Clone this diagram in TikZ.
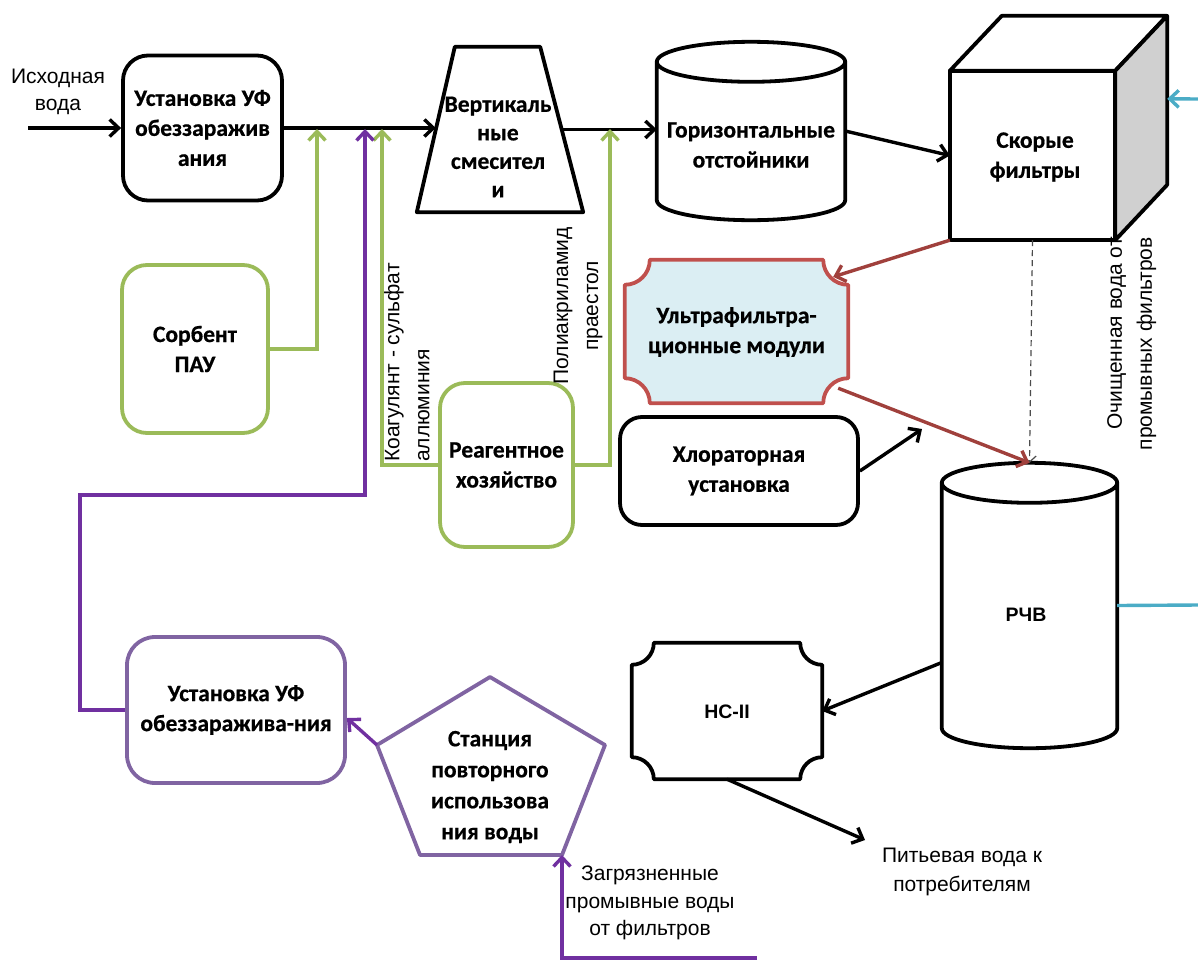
\documentclass[tikz,border=0pt]{standalone}
\usepackage{fontspec}
\setmainfont{Carlito}[BoldFeatures={FakeBold=0.6}]
\newfontfamily\arialfont{Liberation Sans}
\usetikzlibrary{arrows.meta,calc,backgrounds}

\definecolor{lgreen}{HTML}{9BBB59}
\definecolor{pline}{HTML}{7030A0}
\definecolor{pbox}{HTML}{8064A2}
\definecolor{rline}{HTML}{A0403C}
\definecolor{rbox}{HTML}{C0504D}
\definecolor{bluefill}{HTML}{DBEEF3}
\definecolor{cline}{HTML}{4BACC6}
\definecolor{sidegray}{HTML}{D0D0D0}

% plaque outline (concave corners) around a node: #1 style, #2 node, #3 radius
\newcommand\plaquedraw[3]{%
  \draw[#1] let \p1=(#2.north west), \p2=(#2.south east) in
    (\x1+#3,\y1) -- (\x2-#3,\y1) arc[start angle=180,end angle=270,radius=#3]
    -- (\x2,\y2+#3) arc[start angle=90,end angle=180,radius=#3]
    -- (\x1+#3,\y2) arc[start angle=0,end angle=90,radius=#3]
    -- (\x1,\y1-#3) arc[start angle=270,end angle=360,radius=#3] -- cycle;}

% upright cylinder outline around a node: #1 node, #2 half height of the end ellipse
\newcommand\cyldraw[2]{%
  \draw[shapeline, fill=white] let \p1=(#1.north west), \p2=(#1.south east),
      \n1={(\x2-\x1)/2} in
    (\x1,\y1-#2) -- (\x1,\y2+#2)
      arc[start angle=180,end angle=360,x radius={\n1*1pt},y radius=#2]
      -- (\x2,\y1-#2)
      arc[start angle=0,end angle=180,x radius={\n1*1pt},y radius=#2] -- cycle
    (\x1,\y1-#2) arc[start angle=180,end angle=360,x radius={\n1*1pt},y radius=#2];}

\begin{document}
\begin{tikzpicture}[x=1pt,y=-1pt,
  lbl/.style={font=\arialfont\fontsize{21}{27.5}\selectfont, align=center, inner sep=0pt},
  vlbl/.style={font=\arialfont\fontsize{21}{30}\selectfont, inner sep=0pt, rotate=90},
  boldtxt/.style={font=\bfseries\fontsize{23.5}{30}\selectfont, align=center, inner sep=0pt},
  shapeline/.style={line width=3.8pt, line join=round},
  box/.style={shapeline, draw, fill=white, rounded corners=25pt, boldtxt},
  gbox/.style={box, draw=lgreen},
  pbox/.style={box, draw=pbox},
  hidden/.style={draw=none, inner sep=0pt},
  arr/.style={line width=3.4pt, -{Straight Barb[length=9pt,width=17pt]}},
  garr/.style={arr, draw=lgreen},
  parr/.style={arr, draw=pline},
  rarr/.style={arr, draw=rline},
  cyanline/.style={line width=3.4pt, draw=cline},
  dasharr/.style={line width=1.2pt, draw=black!70, dash pattern=on 6pt off 4pt,
    -{Straight Barb[length=6pt,width=13pt]}},
]
\useasboundingbox (0,0) rectangle (1198,961);

% ---------- top process line ----------
\node[lbl] (srcl) at (58,92) {Исходная\\вода};
\coordinate (src) at (28,128);
\node[box, minimum width=159, minimum height=145] (uf1) at (202.5,128) {Установка УФ\\обеззаражив\\ания};

% mixer: node is the band at mid height of the trapezoid
\node[hidden, minimum width=126, minimum height=165] (mix) at (499,129.5) {};
\node[boldtxt, font=\bfseries\fontsize{23.5}{28.5}\selectfont] (mixt) at (498,147) {Вертикаль\\ные\\смесител\\и};

\node[hidden, minimum width=188, minimum height=178] (hs) at (751,131) {};
\node[hidden, minimum width=165, minimum height=169] (cubef) at (1032.5,155.5) {};

% ---------- middle ----------
\node[hidden, minimum width=223, minimum height=143] (ultra) at (736.5,331.5) {};
\node[box, minimum width=238, minimum height=108, rounded corners=22pt] (chl) at (739,471) {Хлораторная\\установка};
\node[hidden, minimum width=175, minimum height=285] (rchv) at (1029.5,605.5) {};
\node[hidden, minimum width=190, minimum height=136] (nc2) at (727,711) {};

\node[gbox, minimum width=133, minimum height=164] (reag) at (506.5,465) {Реагентное\\хозяйство};
\node[gbox, minimum width=146, minimum height=168] (sorb) at (195,349) {Сорбент\\ПАУ};

% ---------- bottom ----------
\node[pbox, minimum width=218, minimum height=146, rounded corners=28pt] (uf2) at (236,710) {Установка УФ\\обеззаражива-ния};
\coordinate (pa) at (490,677);
\coordinate (pb) at (377,745);
\coordinate (pc) at (420,855);
\coordinate (pd) at (562,855);
\coordinate (pe) at (605,745);

% ---------- shapes drawn around the nodes ----------
\begin{scope}[on background layer]
  \draw[shapeline, fill=white] ($(mix.south west)+(-19,0)$) -- ($(mix.north west)+(19,0)$)
    -- ($(mix.north east)+(-22,0)$) -- ($(mix.south east)+(21,0)$) -- cycle;
  \cyldraw{hs}{20pt}
  \cyldraw{rchv}{20pt}
  \draw[shapeline, fill=white] (cubef.north west) -- ++(52,-55) -- ++(165,0) -- (cubef.north east) -- cycle;
  \draw[shapeline, fill=sidegray] (cubef.north east) -- ++(52,-55) -- ++(0,169) -- (cubef.south east) -- cycle;
  \draw[shapeline, fill=white] (cubef.north west) rectangle (cubef.south east);
  \plaquedraw{shapeline, draw=rbox, fill=bluefill}{ultra}{25pt}
  \plaquedraw{shapeline, draw=black, fill=white}{nc2}{22pt}
  \draw[shapeline, draw=pbox, fill=white] (pa) -- (pb) -- (pc) -- (pd) -- (pe) -- cycle;
\end{scope}

% ---------- texts of drawn shapes ----------
\node[boldtxt] (hst) at (751,145) {Горизонтальные\\отстойники};
\node[boldtxt] (cubet) at (1035,157) {Скорые\\фильтры};
\node[boldtxt] (ultrat) at (736.5,332) {Ультрафильтра-\\ционные модули};
\node[font=\arialfont\bfseries\fontsize{19.5}{24}\selectfont, inner sep=0pt] (rchvt) at (1026,615) {РЧВ};
\node[font=\arialfont\bfseries\fontsize{19.5}{24}\selectfont, inner sep=0pt] (nc2t) at (727,712) {НС-II};
\node[boldtxt, font=\bfseries\fontsize{23.5}{31}\selectfont] (pent) at (490,787) {Станция\\повторного\\использова\\ния воды};

% ---------- labels ----------
\node[vlbl, anchor=north west, align=left] (koag) at (384,462) {Коагулянт - сульфат\\аллюминия};
\node[vlbl, align=center] (paa) at (578,306) {Полиакриламид\\праестол};
\node[vlbl, anchor=north east, align=right] (ochl) at (1107,237) {Очищенная вода от\\промывных фильтров};
\node[lbl, font=\arialfont\fontsize{21}{29}\selectfont] (drink) at (962,872) {Питьевая вода к\\потребителям};
\node[lbl] (dirty) at (650,903) {Загрязненные\\промывные воды\\от фильтров};

% ---------- connectors ----------
\coordinate (j1) at (317,129);
\coordinate (j3) at (365,129);
\coordinate (j2) at (382,129);
\coordinate (j4) at (610,129);
\coordinate (pbend) at (365,495);
\coordinate (cubeside) at ($(cubef.north east)+(52,28)$);
\coordinate (cyanin) at (1198,99);
\coordinate (cyanout) at (1198,605);
\coordinate (chlout) at (922,429);
\coordinate (drinkpt) at (865,840);
\coordinate (dirtyin) at (757,958);

\draw[arr] (src) -- (uf1.west);
\draw[arr] (uf1.east) -- (uf1.east -| mix.west);
\draw[arr] (mix.east) -- (mix.east -| hs.west);
\draw[arr] (hs.east) -- (cubef.west);
\draw[arr, draw=cline] (cyanin) -- (cubeside);
\draw[dasharr] (cubef.south) -- (rchv.north);
\draw[rarr] (cubef.south west) -- ($(ultra.north east)+(-15,17)$);
\draw[rarr] ($(ultra.south east)+(-10,-15)$) -- (rchv.north);
\draw[arr] (chl.east) -- (chlout);
\draw[cyanline] (rchv.east) -- (cyanout);
\draw[arr] ($(rchv.west)+(0,57)$) -- (nc2.east);
\draw[arr] (nc2.south) -- (drinkpt);

\draw[garr] (sorb.east) -| (j1);
\draw[garr] (reag.west) -| (j2);
\draw[garr] (reag.east) -| (j4);

\draw[parr] (uf2.west) -- ++(-45,0) |- (pbend) -- (j3);
\draw[parr] (pb) -- ($(uf2.east)+(0,8)$);
\draw[parr] (dirtyin) -| (pd);
\end{tikzpicture}
\end{document}
